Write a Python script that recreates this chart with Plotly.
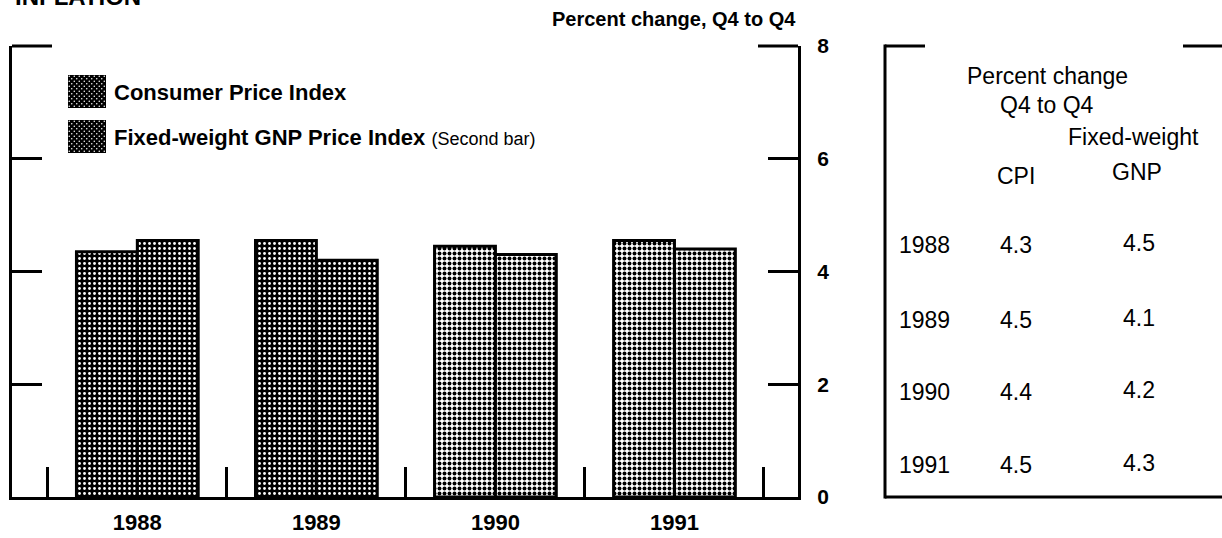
import base64
import plotly.graph_objects as go

# ---------------- data ----------------
years = ["1988", "1989", "1990", "1991"]
cpi_bar = [4.35, 4.55, 4.45, 4.55]          # bar heights
gnp_bar = [4.55, 4.2, 4.3, 4.4]
cpi_table = ["4.3", "4.5", "4.4", "4.5"]     # values printed in the side table
gnp_table = ["4.5", "4.1", "4.2", "4.3"]
y_ticks = [0, 2, 4, 6, 8]
legend_labels = ["Consumer Price Index", "Fixed-weight GNP Price Index"]
legend_note = "(Second bar)"
title_text = "INFLATION"
units_text = "Percent change, Q4 to Q4"
table_head1 = "Percent change"
table_head2 = "Q4 to Q4"
table_col_cpi = "CPI"
table_col_gnp1 = "Fixed-weight"
table_col_gnp2 = "GNP"

# ---------------- styling ----------------
FAM = "Liberation Sans, Arial, Helvetica, sans-serif"
DARK = dict(bg="black", fg="white", solidity=0.25)
LIGHT = dict(bg="white", fg="black", solidity=0.5)
n_dark = 2  # first two years drawn dark, last two light

W, H = 1222, 538
ML, MR, MT, MB = 12, 0, 46, 41
PW = W - ML - MR
PH = H - MT - MB


def px(x):
    return (x - ML) / PW


def py(y):
    return (H - MB - y) / PH


fig = go.Figure()
for grp, vals in (("cpi", cpi_bar), ("gnp", gnp_bar)):
    for style, sl in ((DARK, slice(0, n_dark)), (LIGHT, slice(n_dark, None))):
        fig.add_trace(go.Bar(
            x=years[sl], y=vals[sl], offsetgroup=grp,
            marker=dict(
                color=style["bg"],
                line=dict(color="black", width=3),
                pattern=dict(shape=".", size=5, solidity=style["solidity"],
                             fgcolor=style["fg"], bgcolor=style["bg"], fillmode="replace"),
            ),
            showlegend=False, hoverinfo="skip",
        ))

fig.update_layout(
    width=W, height=H,
    margin=dict(l=ML, r=MR, t=MT, b=MB, pad=0),
    paper_bgcolor="white", plot_bgcolor="white",
    barmode="group", bargap=0.32, bargroupgap=0,
    showlegend=False,
    font=dict(family=FAM, color="black"),
    xaxis=dict(
        type="category", categoryorder="array", categoryarray=years,
        domain=[0, px(798)], range=[-0.70, 3.69],
        tickson="boundaries", ticks="inside", ticklen=30, tickwidth=3, tickcolor="black",
        showline=True, linewidth=3, linecolor="black", mirror=False,
        showgrid=False, zeroline=False,
        tickfont=dict(family=FAM, size=22, weight="bold", color="black"),
        ticklabelstandoff=4,
    ),
    yaxis=dict(
        range=[0, 8], tickvals=y_ticks, side="right",
        ticks="inside", ticklen=30, tickwidth=3, tickcolor="black",
        showline=True, linewidth=3, linecolor="black", mirror="ticks",
        showgrid=False, zeroline=False,
        tickfont=dict(family=FAM, size=21, weight="bold", color="black"),
        ticklabelstandoff=12,
    ),
)

shapes = []
line = dict(color="black", width=3)
# longer top ticks at 8
shapes.append(dict(type="line", xref="paper", yref="paper", x0=px(12), x1=px(52), y0=py(46), y1=py(46), line=line))
shapes.append(dict(type="line", xref="paper", yref="paper", x0=px(758), x1=px(798), y0=py(46), y1=py(46), line=line))
# side table frame
shapes.append(dict(type="line", xref="paper", yref="paper", x0=px(885), x1=px(885), y0=py(44.5), y1=py(498.5), line=line))
shapes.append(dict(type="line", xref="paper", yref="paper", x0=px(885), x1=px(925), y0=py(46), y1=py(46), line=line))
shapes.append(dict(type="line", xref="paper", yref="paper", x0=px(1183), x1=px(1224), y0=py(46), y1=py(46), line=line))
shapes.append(dict(type="line", xref="paper", yref="paper", x0=px(885), x1=px(1224), y0=py(497), y1=py(497), line=line))
fig.update_layout(shapes=shapes)

# legend swatches (dotted dark boxes)
svg = ("<svg xmlns='http://www.w3.org/2000/svg' width='38' height='33'>"
       "<defs><pattern id='p' width='5' height='5' patternUnits='userSpaceOnUse'>"
       "<rect width='5' height='5' fill='black'/>"
       "<circle cx='1.25' cy='1.25' r='0.75' fill='white'/>"
       "<circle cx='3.75' cy='3.75' r='0.75' fill='white'/></pattern></defs>"
       "<rect width='38' height='33' fill='url(#p)'/></svg>")
src = "data:image/svg+xml;base64," + base64.b64encode(svg.encode()).decode()
images = []
for top in (75, 120):
    images.append(dict(source=src, xref="paper", yref="paper", x=px(68), y=py(top),
                       sizex=px(106) - px(68), sizey=(33) / PH, sizing="stretch",
                       xanchor="left", yanchor="top", layer="above"))
fig.update_layout(images=images)

ann = []


def text(x, y, s, size, bold=False, xanchor="center"):
    ann.append(dict(x=px(x), y=py(y), xref="paper", yref="paper", text=s,
                    showarrow=False, xanchor=xanchor, yanchor="middle",
                    font=dict(family=FAM, size=size, color="black",
                              weight="bold" if bold else "normal")))


text(13, -4, title_text, 24, bold=True, xanchor="left")
text(798, 19, units_text, 20, bold=True, xanchor="right")
# legend
text(112, 92, legend_labels[0], 22, bold=True, xanchor="left")
ann.append(dict(x=px(112), y=py(137), xref="paper", yref="paper",
                text="<b>" + legend_labels[1] + "</b> <span style='font-size:18px'>" + legend_note + "</span>",
                showarrow=False, xanchor="left", yanchor="middle",
                font=dict(family=FAM, size=22, color="black")))
# table
text(1047, 76, table_head1, 23)
text(1047, 105, table_head2, 23)
text(1133, 137, table_col_gnp1, 23)
text(1016, 176, table_col_cpi, 23)
text(1137, 172, table_col_gnp2, 23)
row_y = [245, 320, 392, 465]
for yr, c, g, ry in zip(years, cpi_table, gnp_table, row_y):
    text(924, ry, yr, 23)
    text(1016, ry, c, 23)
    text(1139, ry - 2, g, 23)
fig.update_layout(annotations=ann)

fig.write_html("out.html", config={"displayModeBar": False},
               post_script="document.body.style.margin='0px';")
